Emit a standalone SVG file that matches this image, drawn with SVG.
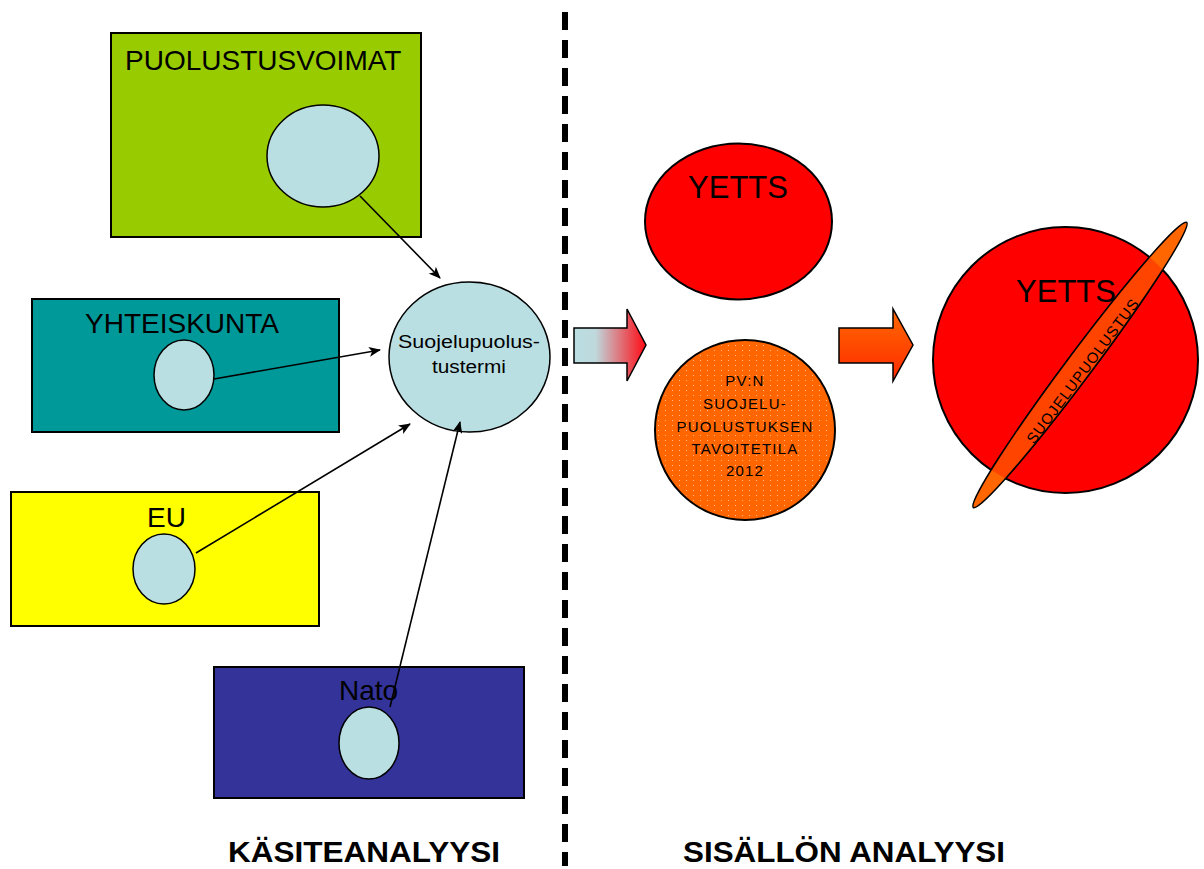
<svg xmlns="http://www.w3.org/2000/svg" width="1204" height="869" viewBox="0 0 1204 869">
<defs>
<style>
.box{stroke:#000;stroke-width:2}
.lb{fill:#B9DFE2;stroke:#000;stroke-width:1.5}
.t{font-family:"Liberation Sans",Arial,sans-serif;fill:#000}
.conn{stroke:#000;stroke-width:1.6;fill:none;marker-end:url(#ah)}
</style>
<marker id="ah" viewBox="0 0 12 10" refX="11" refY="5" markerWidth="13" markerHeight="10" markerUnits="userSpaceOnUse" orient="auto">
<path d="M0,0 L12,5 L0,10 L3,5 Z" fill="#000"/>
</marker>
<linearGradient id="g1" x1="0" y1="0" x2="1" y2="0">
<stop offset="0" stop-color="#B9DFE2"/>
<stop offset="0.3" stop-color="#BFD8DC"/>
<stop offset="1" stop-color="#FF0A14"/>
</linearGradient>
<linearGradient id="g2" x1="0" y1="0" x2="0" y2="1">
<stop offset="0" stop-color="#FF6A00"/>
<stop offset="1" stop-color="#FF2A00"/>
</linearGradient>
<pattern id="dots" width="7" height="5" patternUnits="userSpaceOnUse">
<rect x="0" y="0" width="1" height="1" fill="#fff" opacity="0.55"/>
</pattern>
<clipPath id="bigc"><ellipse cx="1065.5" cy="360" rx="132.5" ry="133"/></clipPath>
</defs>

<g id="divider">
<line x1="565" y1="12" x2="565" y2="866" stroke="#000" stroke-width="6" stroke-dasharray="18 10"/>
</g>

<g id="puolustusvoimat">
<rect class="box" x="111" y="33" width="310" height="204" fill="#99CC00"/>
<text class="t" x="125" y="70" font-size="28">PUOLUSTUSVOIMAT</text>
<ellipse class="lb" cx="323" cy="156" rx="56" ry="51"/>
</g>

<g id="yhteiskunta">
<rect class="box" x="32" y="299" width="307" height="133" fill="#009999"/>
<text class="t" x="85" y="333" font-size="28">YHTEISKUNTA</text>
<ellipse class="lb" cx="184" cy="375" rx="30" ry="35"/>
</g>

<g id="eu">
<rect class="box" x="11" y="492" width="308" height="134" fill="#FFFF00"/>
<text class="t" x="147" y="527" font-size="28">EU</text>
<ellipse class="lb" cx="164" cy="569" rx="31" ry="35"/>
</g>

<g id="nato">
<rect class="box" x="214" y="667" width="310" height="131" fill="#333399"/>
<text class="t" x="339" y="700" font-size="28">Nato</text>
<ellipse class="lb" cx="369" cy="743" rx="30" ry="36"/>
</g>

<g id="suojelupuolustustermi">
<ellipse class="lb" cx="469.5" cy="357" rx="80.5" ry="75"/>
<text class="t" x="469" y="348" font-size="18" text-anchor="middle" textLength="142" lengthAdjust="spacingAndGlyphs">Suojelupuolus-</text>
<text class="t" x="469" y="373" font-size="18" text-anchor="middle" textLength="74" lengthAdjust="spacingAndGlyphs">tustermi</text>
</g>

<g id="connectors">
<line class="conn" x1="360" y1="196" x2="440" y2="278"/>
<line class="conn" x1="214" y1="379" x2="380" y2="350"/>
<line class="conn" x1="196" y1="553" x2="410" y2="424"/>
<line class="conn" x1="390" y1="707" x2="460" y2="422"/>
</g>

<g id="arrow1">
<path d="M574,328 L627,328 L627,309 L646,345 L627,381 L627,363 L574,363 Z" fill="url(#g1)" stroke="#000" stroke-width="1.5"/>
</g>

<g id="arrow2">
<path d="M839,328 L893,328 L893,309 L913,345 L893,381 L893,363 L839,363 Z" fill="url(#g2)" stroke="#000" stroke-width="1.5"/>
</g>

<g id="yetts1">
<ellipse cx="738.5" cy="221.5" rx="93.5" ry="78" fill="#FF0000" stroke="#000" stroke-width="2"/>
<text class="t" x="738" y="198" font-size="31" text-anchor="middle">YETTS</text>
</g>

<g id="pvn">
<ellipse cx="745" cy="430" rx="90" ry="90" fill="#FF6600" stroke="#000" stroke-width="2"/>
<ellipse cx="745" cy="430" rx="88" ry="88" fill="url(#dots)"/>
<g class="t" font-size="15" text-anchor="middle" letter-spacing="1.2">
<text x="745" y="386">PV:N</text>
<text x="745" y="409">SUOJELU-</text>
<text x="745" y="432">PUOLUSTUKSEN</text>
<text x="745" y="454">TAVOITETILA</text>
<text x="745" y="476">2012</text>
</g>
</g>

<g id="yetts2">
<ellipse cx="1065.5" cy="360" rx="132.5" ry="133" fill="#FF0000" stroke="#000" stroke-width="2"/>
<text class="t" x="1066" y="302" font-size="31" text-anchor="middle">YETTS</text>
</g>

<g id="suojelupuolustus">
<g transform="translate(1080,365) rotate(-53.2)">
<ellipse cx="0" cy="0" rx="178" ry="13" fill="#FF6600" stroke="#000" stroke-width="1.5"/>
</g>
<g clip-path="url(#bigc)">
<g transform="translate(1080,365) rotate(-53.2)">
<ellipse cx="0" cy="0" rx="178" ry="13" fill="#FF4400" stroke="#000" stroke-width="1.5"/>
</g>
</g>
<text class="t" font-size="15" text-anchor="middle" letter-spacing="1" transform="translate(1083,371) rotate(-53.2)" x="0" y="5">SUOJELUPUOLUSTUS</text>
</g>

<g id="labels">
<text class="t" x="364" y="862" font-size="29" font-weight="bold" text-anchor="middle" textLength="272" lengthAdjust="spacingAndGlyphs">KÄSITEANALYYSI</text>
<text class="t" x="844" y="862" font-size="29" font-weight="bold" text-anchor="middle" textLength="322" lengthAdjust="spacingAndGlyphs">SISÄLLÖN ANALYYSI</text>
</g>
</svg>
